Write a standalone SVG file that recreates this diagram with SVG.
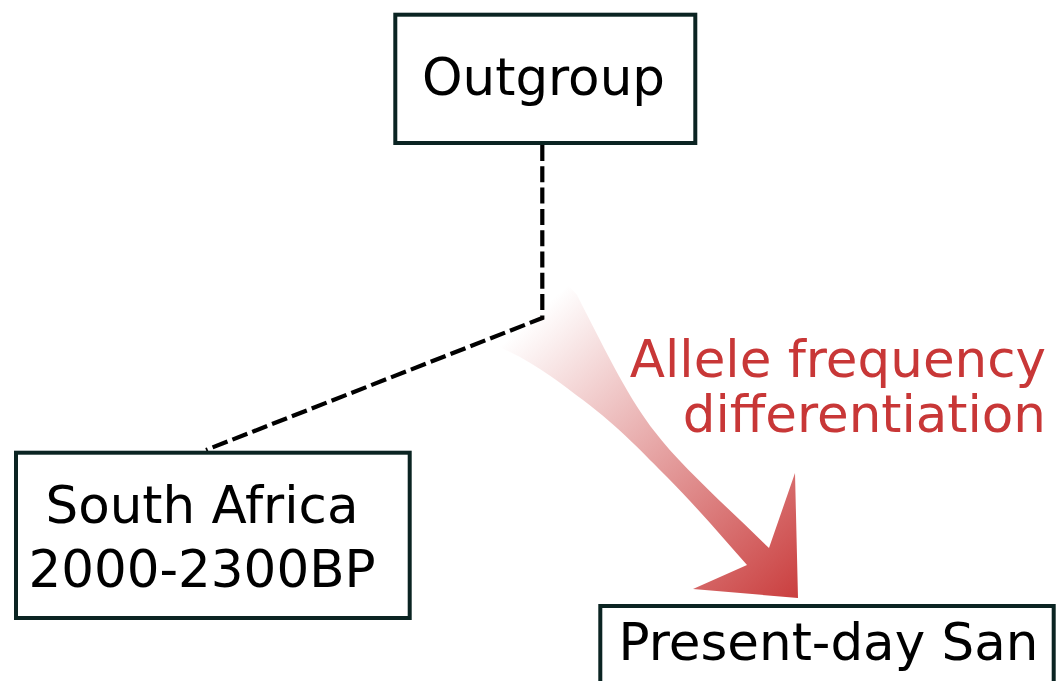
<svg xmlns="http://www.w3.org/2000/svg" width="1060" height="681" viewBox="0 0 1060 681">
  <style>
    .box { fill: #ffffff; stroke: #0b2422; stroke-width: 4; }
    .label { font-family: "DejaVu Sans", "Liberation Sans", sans-serif; font-size: 51.5px; fill: #000000; text-anchor: middle; }
    .note { font-family: "DejaVu Sans", "Liberation Sans", sans-serif; font-size: 51.5px; fill: #c83737; text-anchor: end; }
    .link { fill: none; stroke: #000000; stroke-width: 4.2; stroke-dasharray: 16 5.3; }
  </style>
  <defs>
    <linearGradient id="fade" gradientUnits="userSpaceOnUse" x1="540" y1="310" x2="800" y2="600">
      <stop offset="0" stop-color="#c83737" stop-opacity="0"/>
      <stop offset="1" stop-color="#c83737" stop-opacity="0.97"/>
    </linearGradient>
  </defs>

  <rect width="1060" height="681" fill="#ffffff"/>

  <!-- tree branches -->
  <g id="connectors">
    <polyline class="link" points="542.3,145 542.3,318 206,450"/>
  </g>

  <!-- broad fading arrow towards the present-day population -->
  <g id="differentiation-arrow">
    <path fill="url(#fade)" d="M 747,565 C 720,534 690,500 667,477 C 645,455 620,428 583,400 C 560,383 535,362 497,346 Q 530,240 577,295 C 610,360 630,400 655,432 C 680,465 725,505 769,548 L 795,473 L 798,598 L 693,589 Z"/>
    <text class="note" x="1046" y="377">Allele frequency</text>
    <text class="note" x="1046" y="432">differentiation</text>
  </g>

  <g id="outgroup">
    <rect class="box" x="395.3" y="14.7" width="300" height="128.3"/>
    <text class="label" x="543.5" y="95">Outgroup</text>
  </g>

  <g id="south-africa">
    <rect class="box" x="16" y="452.7" width="393.7" height="165.3"/>
    <text class="label" x="202" y="523.3">South Africa</text>
    <text class="label" x="202" y="586.7">2000-2300BP</text>
  </g>

  <g id="present-day-san">
    <rect class="box" x="600.3" y="606" width="453.4" height="120"/>
    <text class="label" x="828.5" y="660">Present-day San</text>
  </g>
</svg>
